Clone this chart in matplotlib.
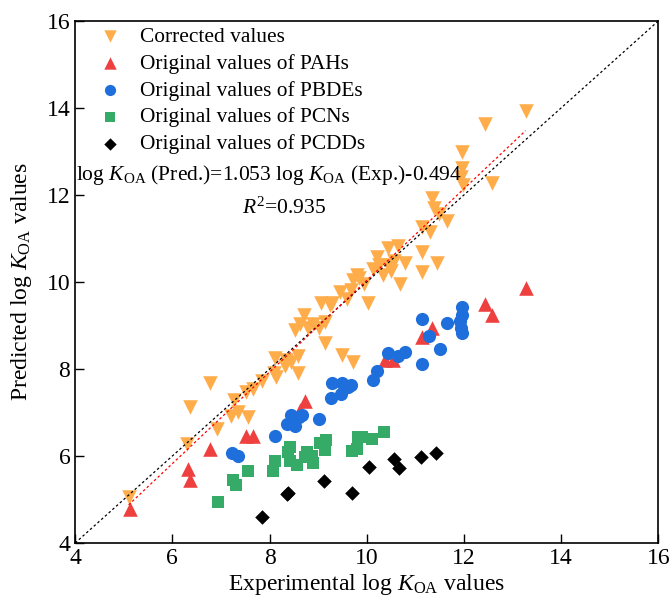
import numpy as np
import matplotlib
matplotlib.use('Agg')
import matplotlib.pyplot as plt

plt.rcParams['font.family'] = ['Liberation Serif', 'DejaVu Serif']
plt.rcParams['mathtext.fontset'] = 'custom'
plt.rcParams['mathtext.rm'] = 'Liberation Serif'
plt.rcParams['mathtext.it'] = 'Liberation Serif:italic'

# corrected values (experimental, predicted)
corr_x = [5.10, 6.31, 6.36, 6.77, 6.92, 7.26, 7.21, 7.35, 7.55, 7.52, 7.65, 7.85, 8.09, 8.12,
          8.14, 8.31, 8.45, 8.58, 8.58, 8.34, 8.53, 8.62, 8.71, 8.80, 8.89, 9.02, 9.06, 9.15,
          9.15, 9.24, 9.28, 9.46, 9.50, 9.59, 9.68, 9.72, 9.72, 9.81, 9.85, 9.94, 10.03, 10.12,
          10.21, 10.25, 10.34, 10.43, 10.43, 10.51, 10.56, 10.65, 10.69, 10.78, 11.13, 11.13,
          11.13, 11.31, 11.35, 11.39, 11.48, 11.66, 11.44, 11.97, 11.97, 11.95, 11.98, 12.57,
          12.43, 13.27]
corr_y = [5.05, 6.28, 7.13, 7.68, 6.63, 7.28, 6.93, 7.02, 6.89, 7.46, 7.55, 7.72, 7.90, 8.25,
          7.81, 8.07, 8.16, 8.29, 7.90, 8.20, 8.90, 9.03, 9.25, 8.95, 9.03, 8.95, 9.52, 9.08,
          8.60, 9.47, 9.52, 9.78, 8.33, 9.60, 9.82, 8.16, 10.04, 10.17, 10.09, 9.95, 9.52, 10.30,
          10.57, 10.39, 10.17, 10.79, 10.39, 10.26, 10.48, 10.83, 9.95, 10.44, 11.27, 10.70,
          10.22, 11.14, 11.92, 11.71, 11.57, 11.40, 10.44, 12.98, 12.63, 12.41, 12.23, 12.28,
          13.63, 13.94]

pah_x = [5.12, 6.33, 6.36, 6.77, 7.52, 7.65, 8.62, 8.74, 10.38, 10.54, 11.13, 11.35, 12.43, 12.57, 13.27]
pah_y = [4.79, 5.71, 5.44, 6.15, 6.47, 6.47, 7.06, 7.26, 8.20, 8.20, 8.73, 8.95, 9.49, 9.24, 9.87]

pbde_x = [7.23, 7.36, 8.12, 8.36, 8.45, 8.53, 8.60, 8.67, 9.02, 9.26, 9.28, 9.48, 9.50, 9.61,
          9.68, 10.12, 10.21, 10.43, 10.65, 10.78, 11.13, 11.13, 11.29, 11.51, 11.66, 11.92,
          11.97, 11.97, 11.95, 11.97]
pbde_y = [6.08, 5.99, 6.45, 6.73, 6.95, 6.70, 6.89, 6.95, 6.85, 7.33, 7.68, 7.42, 7.68, 7.59,
          7.63, 7.74, 7.96, 8.36, 8.29, 8.38, 8.12, 9.15, 8.77, 8.47, 9.05, 9.10, 9.43, 9.25,
          8.95, 8.83]

pcn_x = [6.93, 7.25, 7.31, 7.56, 8.12, 8.08, 8.43, 8.38, 8.43, 8.57, 8.78, 8.73, 8.87, 8.90,
         9.04, 9.17, 9.15, 9.70, 9.80, 9.83, 9.90, 10.11, 10.36]
pcn_y = [4.95, 5.45, 5.33, 5.66, 5.89, 5.66, 6.21, 6.10, 5.89, 5.79, 6.10, 5.98, 6.00, 5.85,
         6.31, 6.37, 6.14, 6.11, 6.16, 6.44, 6.44, 6.39, 6.56]

pcdd_x = [7.84, 8.36, 8.38, 9.13, 9.70, 10.05, 10.57, 10.67, 11.12, 11.42]
pcdd_y = [4.60, 5.13, 5.16, 5.43, 5.14, 5.74, 5.92, 5.73, 5.98, 6.08]

slope = 1.053
intercept = -0.494

fig = plt.figure(figsize=(6.71, 6.00), dpi=100)
ax = fig.add_axes([0.112, 0.095, 0.869, 0.870])

ax.scatter(corr_x, corr_y, marker='v', s=110, color='#FFAD4B', linewidths=0, label='Corrected values', zorder=3)
ax.scatter(pah_x, pah_y, marker='^', s=110, color='#EF4040', linewidths=0, label='Original values of PAHs', zorder=3)
ax.scatter(pbde_x, pbde_y, marker='o', s=90, color='#1E6FDC', linewidths=0, label='Original values of PBDEs', zorder=3)
ax.scatter(pcn_x, pcn_y, marker='s', s=70, color='#36AB68', linewidths=0, label='Original values of PCNs', zorder=3)
ax.scatter(pcdd_x, pcdd_y, marker='D', s=55, color='black', linewidths=0, label='Original values of PCDDs', zorder=3)

# 1:1 line
ax.plot([4, 16], [4, 16], ls=(0, (2, 2)), color='black', lw=0.9, zorder=4)
# fitted line
fx = np.array([min(corr_x), max(corr_x)])
ax.plot(fx, slope * fx + intercept, ls=(0, (2, 2)), color='red', lw=0.9, zorder=4)

ax.set_xlim(4, 16)
ax.set_ylim(4, 16)
ax.set_xticks([4, 6, 8, 10, 12, 14, 16])
ax.set_yticks([4, 6, 8, 10, 12, 14, 16])
ax.tick_params(direction='in', labelsize=17, length=6.5, width=1)
for s in ax.spines.values():
    s.set_linewidth(1.2)

ax.set_xlabel(r'Experimental log $\mathit{K}_{\mathrm{OA}}$ values', fontsize=17, labelpad=2)
ax.set_ylabel(r'Predicted log $\mathit{K}_{\mathrm{OA}}$ values', fontsize=17, labelpad=9)

ax.text(4.02, 12.45, r'log $\mathit{K}_{\mathrm{OA}}$ (Pred.)=1.053 log $\mathit{K}_{\mathrm{OA}}$ (Exp.)-0.494',
        fontsize=15.5, ha='left', va='center')
ax.text(8.3, 11.7, r'$\mathit{R}^{2}$=0.935', fontsize=15.5, ha='center', va='center')

ax.legend(loc='upper left', frameon=False, fontsize=15.4, handletextpad=0.62,
          labelspacing=0.32, borderaxespad=0.0, handlelength=1.6, markerscale=0.85,
          bbox_to_anchor=(0.015, 1.005))

fig.savefig('out.png', dpi=100)
